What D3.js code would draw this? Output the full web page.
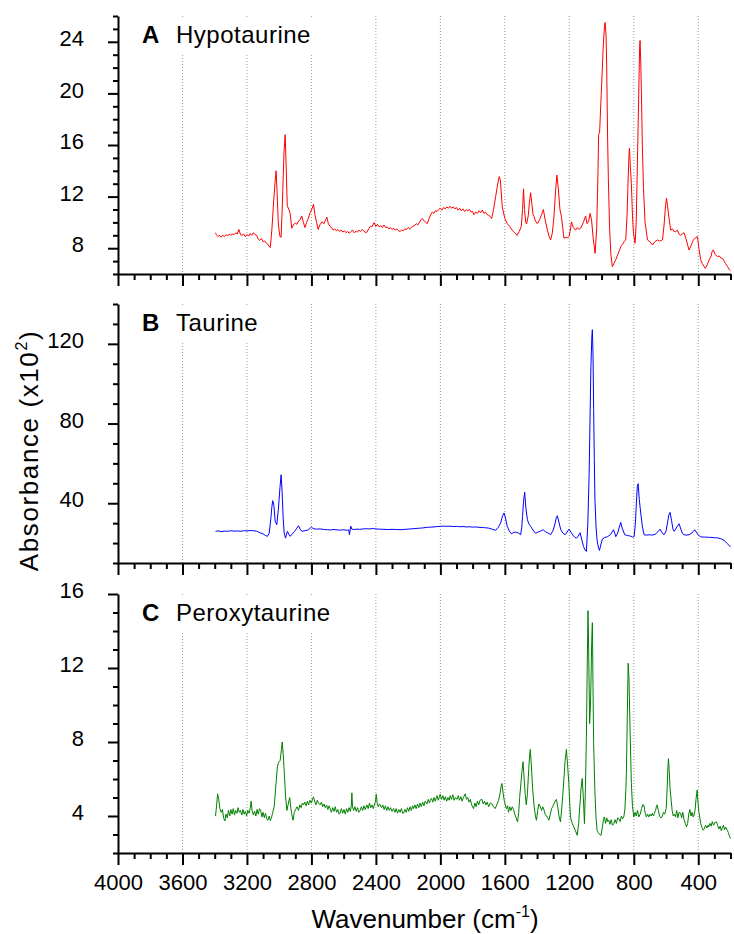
<!DOCTYPE html>
<html>
<head>
<meta charset="utf-8">
<script src="https://cdn.jsdelivr.net/npm/d3@7"></script>
<style>
  html, body { margin: 0; padding: 0; background: #fff; }
  svg { display: block; font-family: "Liberation Sans", Arial, sans-serif; }
</style>
</head>
<body>
<svg id="chart" width="734" height="934"></svg>
<script>
// ---------------- DATA ----------------
const xDomain = [4000, 200];
const xTicksMajor = [4000, 3600, 3200, 2800, 2400, 2000, 1600, 1200, 800, 400];
const xMinorStep = 100;

const yTicksA = [8, 12, 16, 20, 24];
const yTicksB = [40, 80, 120];
const yTicksC = [4, 8, 12, 16];

const panelLetters = ["A", "B", "C"];
const panelNames = ["Hypotaurine", "Taurine", "Peroxytaurine"];

// [wavenumber (cm-1), absorbance (x10^2)]
const hypotaurine = [
[3395,9.2],[3390,9.05],[3380,8.9],[3370,9.0],[3360,8.85],[3350,9.0],[3340,8.9],[3330,9.05],[3320,8.95],[3310,9.1],
[3300,9.0],[3290,9.1],[3280,9.05],[3270,9.2],[3260,9.1],[3250,9.45],[3240,9.05],[3230,9.0],[3220,9.1],[3210,8.9],
[3200,9.05],[3190,8.95],[3180,9.15],[3170,9.0],[3160,9.2],[3150,9.05],[3140,9.0],[3130,8.7],[3120,8.6],[3110,8.75],
[3100,8.5],[3090,8.55],[3080,8.4],[3070,8.3],[3060,8.1],[3055,8.05],[3045,9.5],[3035,11.5],[3025,13.2],[3019,14.0],
[3012,12.0],[3005,9.8],[2995,8.9],[2988,8.85],[2980,11.5],[2970,15.5],[2963,16.8],[2957,14.5],[2950,11.3],[2940,11.0],
[2932,10.7],[2922,9.55],[2912,9.8],[2900,9.95],[2890,9.85],[2880,10.1],[2870,10.2],[2860,10.5],[2850,10.0],[2840,9.6],
[2830,10.0],[2820,10.3],[2808,10.75],[2795,11.1],[2787,11.4],[2778,10.6],[2768,10.0],[2758,9.45],[2748,9.8],[2735,10.05],
[2722,9.9],[2712,10.2],[2704,10.4],[2695,9.9],[2685,9.7],[2675,9.6],[2665,9.4],[2655,9.5],[2645,9.35],[2635,9.45],
[2625,9.3],[2615,9.4],[2605,9.25],[2595,9.35],[2585,9.2],[2575,9.3],[2565,9.15],[2555,9.3],[2545,9.4],[2535,9.2],
[2525,9.3],[2515,9.25],[2505,9.4],[2495,9.3],[2485,9.45],[2475,9.35],[2465,9.2],[2455,9.25],[2445,9.5],[2435,9.7],
[2425,9.65],[2412,9.98],[2400,9.7],[2390,9.85],[2380,9.65],[2370,9.75],[2360,9.6],[2350,9.8],[2340,9.6],[2330,9.65],
[2320,9.5],[2310,9.6],[2300,9.45],[2290,9.55],[2280,9.4],[2270,9.5],[2260,9.35],[2250,9.3],[2240,9.4],[2230,9.35],
[2220,9.5],[2210,9.45],[2200,9.6],[2190,9.5],[2180,9.6],[2170,9.7],[2160,9.75],[2150,9.9],[2140,9.8],[2130,10.0],
[2120,10.2],[2112,10.3],[2100,10.1],[2090,10.0],[2081,9.9],[2070,10.3],[2060,10.6],[2050,10.8],[2040,10.7],[2030,10.9],
[2020,10.85],[2010,11.0],[2000,11.1],[1990,10.95],[1980,11.15],[1970,11.05],[1960,11.2],[1950,11.1],[1940,11.25],[1930,11.1],
[1920,11.2],[1910,11.05],[1900,11.15],[1890,10.95],[1880,11.1],[1870,10.9],[1860,11.05],[1850,10.85],[1840,11.0],[1830,10.9],
[1820,11.0],[1810,10.8],[1800,10.85],[1792,10.6],[1780,10.8],[1770,10.7],[1760,10.9],[1750,10.75],[1740,10.95],[1730,10.7],
[1720,10.8],[1710,10.6],[1700,10.55],[1690,10.45],[1682,10.3],[1670,11.0],[1657,12.0],[1645,12.9],[1635,13.55],[1628,13.3],
[1616,11.2],[1600,10.3],[1585,9.9],[1570,9.7],[1555,9.4],[1540,9.2],[1523,9.0],[1510,9.3],[1498,9.7],[1490,11.0],
[1484,12.6],[1478,11.0],[1470,10.0],[1465,9.88],[1455,10.5],[1447,11.6],[1440,12.3],[1432,11.4],[1425,10.6],[1419,10.45],
[1410,10.1],[1398,9.9],[1385,10.2],[1372,10.6],[1361,11.0],[1350,10.2],[1336,9.4],[1325,8.9],[1316,8.64],[1305,9.2],
[1295,10.5],[1285,12.5],[1277,13.67],[1268,12.6],[1258,11.0],[1249,10.45],[1240,9.5],[1233,8.77],[1220,8.85],[1210,8.8],
[1202,8.9],[1195,9.3],[1187,10.05],[1175,9.6],[1161,9.4],[1150,9.6],[1140,9.45],[1130,9.55],[1120,9.8],[1110,10.1],
[1099,10.5],[1090,9.9],[1080,10.1],[1071,10.7],[1062,10.2],[1052,8.8],[1040,7.6],[1030,9.5],[1022,14.0],[1018,16.8],
[1012,17.0],[1000,20.5],[990,23.5],[982,25.2],[978,25.5],[972,24.5],[968,22.1],[963,17.0],[958,13.5],[950,9.5],
[942,7.5],[933,6.57],[924,6.8],[912,7.1],[900,7.5],[890,7.8],[881,8.12],[870,8.3],[860,8.5],[850,8.64],
[842,10.5],[836,13.0],[830,15.2],[827,15.75],[822,14.5],[815,13.0],[808,10.5],[802,9.16],[792,8.38],[785,10.0],
[778,14.3],[770,19.5],[764,23.5],[761,24.1],[757,22.5],[753,20.3],[747,16.0],[740,12.7],[730,10.0],[715,8.64],
[700,8.5],[684,8.25],[670,8.5],[653,8.64],[640,8.55],[630,8.6],[622,8.64],[612,9.8],[603,11.3],[597,11.87],
[590,11.2],[580,10.2],[571,9.4],[560,9.5],[550,9.3],[540,9.28],[530,9.4],[520,9.1],[509,9.0],[500,9.1],
[488,9.2],[475,8.7],[465,8.2],[457,7.86],[445,8.2],[435,8.5],[430,8.64],[418,8.8],[405,8.9],[395,7.9],
[385,7.1],[375,6.8],[365,6.6],[357,6.44],[345,6.7],[332,7.1],[320,7.4],[313,7.8],[306,7.86],[295,7.5],
[281,7.35],[270,7.4],[260,7.25],[249,7.2],[240,7.0],[230,6.8],[218,6.57],[205,6.3],[200,6.25]
];

const taurine = [
[3395,25.9],[3380,26.1],[3360,25.8],[3340,26.0],[3320,25.9],[3300,26.2],[3280,26.0],[3260,26.1],[3240,25.9],[3220,26.2],
[3200,26.1],[3180,26.3],[3160,26.2],[3140,26.0],[3120,25.2],[3100,24.6],[3085,23.8],[3073,23.4],[3062,25.0],[3052,32.0],
[3045,38.5],[3040,41.3],[3033,39.0],[3025,31.0],[3015,29.2],[3005,37.0],[2995,48.0],[2988,54.3],[2982,46.0],[2975,32.0],
[2969,25.1],[2961,22.5],[2955,24.0],[2949,25.9],[2940,24.5],[2932,23.4],[2920,24.5],[2905,25.8],[2890,27.5],[2880,28.7],
[2870,27.0],[2859,25.9],[2840,26.2],[2820,26.6],[2800,28.1],[2790,27.3],[2770,27.0],[2746,27.1],[2720,26.8],[2700,26.7],
[2680,26.6],[2660,26.8],[2640,26.6],[2620,26.5],[2600,26.7],[2580,26.4],[2568,26.6],[2564,24.2],[2556,28.5],[2549,27.0],
[2540,26.8],[2520,27.0],[2500,26.9],[2480,27.1],[2460,27.2],[2440,27.1],[2415,27.3],[2400,27.1],[2380,27.0],[2350,26.9],
[2320,26.8],[2300,26.9],[2270,26.8],[2250,26.7],[2220,26.9],[2200,27.0],[2170,27.2],[2140,27.4],[2110,27.6],[2081,27.9],
[2060,28.0],[2040,28.1],[2020,28.3],[2000,28.4],[1980,28.5],[1960,28.4],[1940,28.5],[1920,28.3],[1900,28.4],[1880,28.2],
[1860,28.3],[1840,28.1],[1820,28.2],[1800,28.0],[1780,28.1],[1760,27.9],[1740,27.8],[1720,27.7],[1700,27.5],[1680,27.0],
[1657,26.4],[1640,28.0],[1626,30.1],[1615,33.5],[1605,35.1],[1597,33.0],[1585,28.4],[1572,26.0],[1560,24.7],[1545,25.3],
[1533,25.5],[1515,25.0],[1502,24.2],[1495,28.0],[1490,33.4],[1484,41.0],[1477,45.5],[1470,38.0],[1460,31.7],[1450,29.5],
[1440,28.4],[1425,26.5],[1409,24.9],[1395,25.5],[1380,26.0],[1361,26.7],[1348,25.6],[1336,25.2],[1326,24.8],[1316,24.2],
[1300,26.5],[1288,30.0],[1280,33.0],[1274,33.7],[1266,31.0],[1253,26.7],[1240,25.0],[1226,24.2],[1214,25.5],[1202,27.0],
[1190,25.5],[1175,23.7],[1165,22.8],[1155,22.5],[1145,23.5],[1133,25.2],[1122,21.5],[1112,18.3],[1102,16.5],[1094,15.8],
[1085,30.0],[1077,55.2],[1066,108.7],[1060,124.0],[1057,127.1],[1053,115.0],[1049,87.0],[1045,62.0],[1041,41.8],[1034,28.0],
[1028,21.7],[1020,18.0],[1013,16.3],[1005,19.0],[995,22.0],[980,22.8],[963,23.2],[945,24.2],[935,25.5],[926,26.7],
[918,25.0],[912,23.2],[900,25.0],[890,28.0],[881,30.4],[872,27.5],[856,24.2],[840,23.8],[820,23.5],[808,23.0],
[798,23.2],[790,30.0],[784,40.0],[778,48.5],[773,49.8],[766,42.0],[757,35.1],[746,28.0],[736,24.2],[720,24.0],
[700,24.2],[690,24.0],[674,24.2],[660,24.8],[648,26.0],[637,27.0],[625,25.2],[612,24.2],[600,26.0],[590,30.5],
[583,34.0],[575,35.4],[566,31.5],[557,27.0],[550,25.9],[540,27.0],[530,28.5],[519,29.7],[508,27.0],[498,24.8],
[488,24.2],[475,24.0],[457,24.2],[440,25.0],[430,26.0],[422,26.7],[412,25.5],[400,24.0],[385,23.1],[360,23.0],
[330,22.9],[300,22.7],[281,22.6],[260,22.2],[239,21.3],[220,19.8],[200,18.0]
];

const peroxytaurine = [
[3395,4.0],[3388,4.6],[3382,5.2],[3375,4.9],[3368,4.4],[3360,4.2],[3352,4.35],[3345,3.9],[3337,3.73],[3330,4.1],
[3322,3.9],[3315,4.3],[3307,4.0],[3300,4.35],[3292,4.1],[3285,4.4],[3277,4.05],[3270,4.3],[3262,4.15],[3255,4.45],
[3247,4.2],[3240,4.3],[3232,4.05],[3225,4.35],[3217,4.1],[3210,4.25],[3202,4.0],[3195,4.3],[3187,4.15],[3180,4.4],
[3174,4.8],[3168,4.3],[3160,4.05],[3152,4.25],[3145,4.0],[3137,4.35],[3130,4.1],[3122,4.4],[3115,4.3],[3107,3.95],
[3100,4.2],[3092,3.9],[3085,4.15],[3077,3.85],[3070,3.77],[3062,4.0],[3055,3.75],[3048,3.9],[3040,4.2],[3031,4.5],
[3022,5.5],[3011,6.66],[3004,6.9],[2994,7.0],[2986,7.6],[2981,8.0],[2975,7.3],[2968,6.3],[2960,5.0],[2952,4.3],
[2945,4.6],[2935,5.0],[2927,4.4],[2920,4.0],[2914,3.77],[2906,4.2],[2898,4.35],[2889,4.5],[2880,4.3],[2872,4.6],
[2864,4.45],[2856,4.7],[2849,4.6],[2841,4.75],[2833,4.55],[2825,4.8],[2817,4.6],[2809,4.85],[2800,4.7],[2792,4.95],
[2787,5.03],[2780,4.8],[2772,4.6],[2764,4.85],[2756,4.7],[2746,4.6],[2738,4.75],[2730,4.5],[2722,4.65],[2714,4.45],
[2706,4.6],[2698,4.35],[2690,4.55],[2684,4.4],[2676,4.2],[2668,4.45],[2660,4.25],[2652,4.5],[2644,4.2],[2636,4.35],
[2628,4.1],[2622,4.16],[2614,4.4],[2606,4.15],[2598,4.35],[2590,4.1],[2582,4.4],[2574,4.2],[2566,4.45],[2558,4.25],
[2552,4.6],[2549,5.25],[2545,4.5],[2538,4.3],[2530,4.5],[2522,4.25],[2514,4.45],[2506,4.2],[2498,4.3],[2490,4.5],
[2482,4.3],[2474,4.55],[2466,4.35],[2456,4.6],[2448,4.4],[2440,4.7],[2432,4.45],[2424,4.6],[2416,4.4],[2408,4.65],
[2402,4.8],[2398,5.18],[2392,4.7],[2385,4.5],[2378,4.65],[2373,4.6],[2365,4.45],[2357,4.6],[2349,4.35],[2341,4.55],
[2333,4.3],[2325,4.5],[2317,4.3],[2309,4.45],[2300,4.25],[2290,4.4],[2282,4.2],[2274,4.4],[2266,4.15],[2258,4.35],
[2250,4.2],[2242,4.4],[2234,4.15],[2228,4.16],[2220,4.35],[2212,4.2],[2204,4.45],[2196,4.25],[2188,4.5],[2180,4.3],
[2172,4.55],[2166,4.4],[2158,4.6],[2150,4.4],[2142,4.65],[2134,4.45],[2126,4.7],[2118,4.5],[2110,4.75],[2102,4.55],
[2094,4.8],[2083,4.65],[2075,4.9],[2067,4.7],[2063,4.85],[2055,4.95],[2047,4.75],[2040,5.0],[2032,4.8],[2021,5.1],
[2013,4.85],[2005,5.05],[2001,5.18],[1993,4.9],[1985,5.1],[1977,4.85],[1969,5.05],[1961,4.8],[1953,5.0],[1945,4.85],
[1939,5.1],[1931,4.9],[1923,5.15],[1915,4.85],[1907,5.0],[1897,4.9],[1889,5.1],[1881,4.85],[1873,5.05],[1865,4.8],
[1857,5.0],[1846,5.2],[1838,4.9],[1830,5.0],[1822,4.75],[1814,4.9],[1806,4.6],[1800,4.5],[1794,4.4],[1786,4.7],
[1778,4.5],[1770,4.8],[1762,4.6],[1754,4.85],[1742,4.9],[1734,4.65],[1726,4.8],[1718,4.6],[1710,4.75],[1700,4.5],
[1690,4.7],[1680,4.65],[1670,4.5],[1660,4.4],[1650,4.6],[1639,4.85],[1630,5.2],[1623,5.6],[1618,5.76],[1610,5.2],
[1603,4.8],[1597,4.6],[1590,4.4],[1583,4.55],[1577,4.2],[1570,4.5],[1562,4.3],[1554,4.5],[1546,4.35],[1538,4.1],
[1530,3.9],[1521,3.68],[1514,4.2],[1508,5.0],[1500,5.8],[1494,6.4],[1487,6.93],[1480,6.0],[1474,5.2],[1467,4.6],
[1460,5.2],[1452,6.5],[1446,7.3],[1442,7.6],[1436,6.8],[1427,5.4],[1418,4.5],[1410,4.0],[1404,3.77],[1396,4.3],
[1389,4.65],[1380,4.5],[1372,4.3],[1365,4.5],[1358,4.35],[1350,4.1],[1342,4.0],[1334,3.9],[1327,3.77],[1318,4.1],
[1310,4.4],[1303,4.5],[1296,4.65],[1288,4.8],[1280,4.9],[1272,4.5],[1264,4.0],[1255,3.68],[1246,4.5],[1240,5.2],
[1234,5.94],[1226,7.0],[1218,7.6],[1211,6.8],[1203,5.76],[1197,4.6],[1193,3.95],[1182,3.6],[1172,3.41],[1162,3.2],
[1151,2.96],[1142,3.6],[1134,4.65],[1127,5.5],[1120,6.03],[1113,5.0],[1106,3.59],[1100,5.5],[1094,8.28],[1089,12.0],
[1084,15.1],[1080,13.0],[1074,9.0],[1069,10.0],[1065,11.5],[1061,13.5],[1057,14.45],[1053,11.0],[1049,7.93],[1042,5.5],
[1035,4.0],[1028,3.23],[1020,3.1],[1012,3.0],[1003,2.96],[995,3.4],[988,3.8],[983,3.95],[975,3.6],[968,3.9],
[961,3.7],[955,3.77],[948,3.55],[940,3.8],[932,3.5],[924,3.59],[916,3.8],[908,3.6],[900,3.9],[893,3.86],
[885,3.7],[877,4.0],[870,3.85],[862,3.95],[855,4.4],[849,5.5],[846,6.3],[840,9.5],[835,12.26],[830,11.5],
[825,9.4],[820,7.5],[815,5.76],[808,4.5],[800,3.95],[792,4.2],[785,4.0],[777,4.3],[769,3.95],[760,4.1],
[752,4.4],[745,4.6],[738,4.6],[730,4.2],[722,3.95],[714,4.1],[707,3.95],[700,4.1],[692,4.0],[685,4.15],
[678,4.0],[672,4.15],[665,4.3],[660,4.5],[655,4.6],[648,4.3],[640,4.0],[632,3.9],[624,3.95],[616,4.2],
[608,4.1],[599,4.4],[593,5.5],[589,6.5],[585,7.1],[580,6.4],[575,5.5],[568,4.85],[562,4.3],[555,4.0],
[548,4.1],[541,3.95],[534,4.3],[527,3.9],[519,4.2],[510,4.15],[503,3.9],[496,4.2],[488,3.8],[480,3.6],
[473,3.41],[466,3.6],[459,4.1],[452,4.35],[445,4.0],[438,4.2],[432,3.95],[428,4.0],[420,4.3],[414,4.9],
[410,5.2],[407,5.4],[402,4.8],[396,4.2],[391,3.95],[385,3.6],[378,3.4],[370,3.23],[363,3.3],[355,3.5],
[347,3.35],[340,3.5],[335,3.41],[328,3.6],[320,3.45],[313,3.7],[305,3.5],[297,3.65],[287,3.68],[280,3.5],
[272,3.3],[264,3.45],[257,3.2],[251,3.36],[244,3.5],[237,3.25],[230,3.4],[220,3.23],[213,3.1],[206,2.9],[200,2.78]
];

// ---------------- LAYOUT ----------------
const svg = d3.select("#chart");
const left = 118, right = 730.5;
const x = d3.scaleLinear().domain(xDomain).range([left, right]);

const panels = [
  { data: hypotaurine,   color: "#ff0000", top: 16,  bottom: 274, domain: [6, 26],   major: yTicksA, minorStep: 1,  labelBoxW: 215 },
  { data: taurine,       color: "#0000ff", top: 304, bottom: 563, domain: [10, 140], major: yTicksB, minorStep: 10, labelBoxW: 140 },
  { data: peroxytaurine, color: "#008000", top: 594, bottom: 853, domain: [2, 16],   major: yTicksC, minorStep: 1,  labelBoxW: 220 }
];

const xMinor = d3.range(xDomain[0], xDomain[1] - 1, -xMinorStep).filter(v => !xTicksMajor.includes(v));

panels.forEach((p, i) => {
  const y = d3.scaleLinear().domain(p.domain).range([p.bottom, p.top]);
  const g = svg.append("g");

  // dotted vertical gridlines
  g.selectAll("line.grid")
    .data(xTicksMajor.filter(v => v !== xDomain[0]))
    .join("line")
    .attr("class", "grid")
    .attr("x1", d => x(d)).attr("x2", d => x(d))
    .attr("y1", p.top).attr("y2", p.bottom)
    .attr("stroke", "#9a9a9a").attr("stroke-width", 1)
    .attr("stroke-dasharray", "1,2");

  // white box behind panel label
  g.append("rect")
    .attr("x", left + 3).attr("y", p.top + 2)
    .attr("width", p.labelBoxW).attr("height", 37)
    .attr("fill", "#fff");

  // spectrum
  const line = d3.line().x(d => x(d[0])).y(d => y(d[1]));
  g.append("path")
    .datum(p.data)
    .attr("d", line)
    .attr("fill", "none")
    .attr("stroke", p.color)
    .attr("stroke-width", 1)
    .attr("stroke-linejoin", "round");

  // panel label
  g.append("text")
    .attr("x", 142).attr("y", p.top + 27)
    .attr("font-size", 24).attr("font-weight", "bold")
    .text(panelLetters[i]);
  g.append("text")
    .attr("x", 176).attr("y", p.top + 27)
    .attr("font-size", 24)
    .attr("letter-spacing", 0.5)
    .text(panelNames[i]);

  // y axis: minor ticks
  const yMinor = d3.range(p.domain[0], p.domain[1] + 1e-9, p.minorStep).filter(v => !p.major.includes(v));
  const gyMinor = g.append("g").attr("transform", `translate(${left},0)`)
    .call(d3.axisLeft(y).tickValues(yMinor).tickSize(5).tickSizeOuter(0).tickFormat(""));
  gyMinor.select(".domain").remove();
  gyMinor.selectAll("line").attr("stroke-width", 2);

  // y axis: major ticks + labels
  const gy = g.append("g").attr("transform", `translate(${left},0)`)
    .call(d3.axisLeft(y).tickValues(p.major).tickSize(10).tickSizeOuter(0).tickPadding(24));
  gy.select(".domain").attr("stroke-width", 2);
  gy.selectAll("line").attr("stroke-width", 2);
  gy.selectAll("text")
    .attr("font-size", 22)
    .attr("font-family", "'Liberation Sans', Arial, sans-serif")
    .attr("fill", "#000")
    .attr("dy", "0.17em");

  // x axis: minor ticks
  const gxMinor = g.append("g").attr("transform", `translate(0,${p.bottom})`)
    .call(d3.axisBottom(x).tickValues(xMinor).tickSize(6).tickSizeOuter(0).tickFormat(""));
  gxMinor.select(".domain").remove();
  gxMinor.selectAll("line").attr("stroke-width", 2);

  // x axis: major ticks
  const isLast = i === panels.length - 1;
  const gx = g.append("g").attr("transform", `translate(0,${p.bottom})`)
    .call(d3.axisBottom(x).tickValues(xTicksMajor).tickSize(12).tickSizeOuter(0)
      .tickFormat(isLast ? d3.format("d") : ""));
  gx.select(".domain").attr("stroke-width", 2);
  gx.selectAll("line").attr("stroke-width", 2);
  gx.selectAll("text")
    .attr("font-size", 22)
    .attr("font-family", "'Liberation Sans', Arial, sans-serif")
    .attr("fill", "#000")
    .attr("y", 37).attr("dy", 0);
});

// axis titles
const xt = svg.append("text")
  .attr("x", 425).attr("y", 928)
  .attr("text-anchor", "middle")
  .attr("font-size", 26);
xt.append("tspan").text("Wavenumber (cm");
xt.append("tspan").attr("font-size", 16).attr("dy", -11).text("-1");
xt.append("tspan").attr("dy", 11).text(")");

const yt = svg.append("text")
  .attr("transform", "translate(37.5,450.5) rotate(-90)")
  .attr("text-anchor", "middle")
  .attr("font-size", 26)
  .attr("letter-spacing", 1.6);
yt.append("tspan").text("Absorbance (x10");
yt.append("tspan").attr("font-size", 16).attr("dy", -11).text("2");
yt.append("tspan").attr("dy", 11).text(")");
</script>
</body>
</html>
